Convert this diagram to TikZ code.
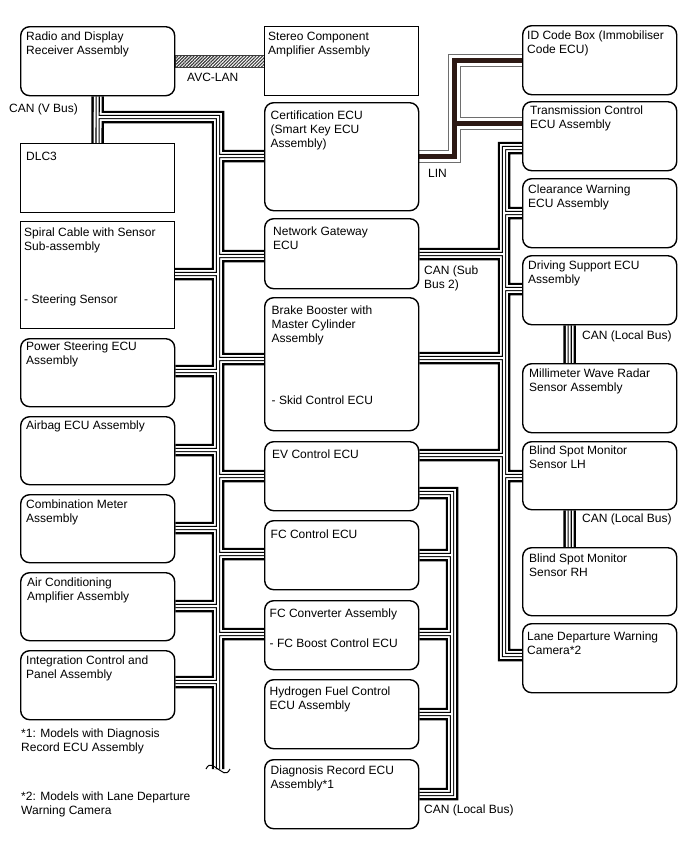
\documentclass[tikz,border=0pt]{standalone}
\usepackage{fontspec}
\setmainfont{Liberation Sans}
\usetikzlibrary{positioning,backgrounds,patterns.meta}
\definecolor{lindark}{RGB}{45,25,20}
\definecolor{lingray}{RGB}{110,110,110}
\definecolor{avcgray}{RGB}{60,60,60}

\begin{document}
\begin{tikzpicture}[x=1pt,y=-1pt,font=\fontsize{12}{14}\selectfont,
  box/.style={draw,line width=1.1pt,fill=white,anchor=north west,minimum width=154pt,minimum height=#1pt,inner sep=0pt},
  box/.default=69,
  ecu/.style={box=#1,line width=1.4pt,rounded corners=9pt},
  ecu/.default=69,
  txt/.style={anchor=north west,inner sep=0pt,align=left}]
\begin{scope}[on background layer]
\fill[white] (0,0) rectangle (688,852);
\end{scope}
\useasboundingbox (0,0) rectangle (688,852);

\node[ecu] (radio) at (20,26) {};
\node[box] (dlc) at (20,143) {};
\node[box=107] (spiral) at (20,221) {};
\node[ecu=68] (psteer) at (20,338) {};
\node[ecu=68] (airbag) at (20,416) {};
\node[ecu=68] (combi) at (20,494) {};
\node[ecu=68] (aircon) at (20,572) {};
\node[ecu] (integ) at (20,650) {};

\node[box] (stereo) at (264,26) {};
\node[ecu=108] (cert) at (264,102) {};
\node[ecu=70] (gateway) at (264,218) {};
\node[ecu=133] (brake) at (264,297) {};
\node[ecu] (ev) at (264,441) {};
\node[ecu] (fcc) at (264,520) {};
\node[ecu] (fcconv) at (264,600) {};
\node[ecu] (h2) at (264,679) {};
\node[ecu] (diag) at (264,759) {};

\node[ecu] (idbox) at (522,25) {};
\node[ecu] (tcm) at (522,101) {};
\node[ecu] (clear) at (522,178) {};
\node[ecu] (drive) at (522,255) {};
\node[ecu] (mwr) at (522,363) {};
\node[ecu=68] (bsmlh) at (522,441) {};
\node[ecu=68] (bsmrh) at (522,547) {};
\node[ecu] (lane) at (522,623) {};

\node[txt,below right=6pt and 6pt of radio.north west] (radio-t) {Radio and Display\\Receiver Assembly};
\node[txt,below right=8.5pt and 6pt of dlc.north west] (dlc-t) {DLC3};
\node[txt,below right=6.5pt and 4pt of spiral.north west] (spiral-t) {Spiral Cable with Sensor\\Sub-assembly\\[39pt]- Steering Sensor};
\node[txt,below right=4pt and 6pt of psteer.north west] (psteer-t) {Power Steering ECU\\Assembly};
\node[txt,below right=4.5pt and 6pt of airbag.north west] (airbag-t) {Airbag ECU Assembly};
\node[txt,below right=5.5pt and 6pt of combi.north west] (combi-t) {Combination Meter\\Assembly};
\node[txt,below right=5.5pt and 7pt of aircon.north west] (aircon-t) {Air Conditioning\\Amplifier Assembly};
\node[txt,below right=5.5pt and 6pt of integ.north west] (integ-t) {Integration Control and\\Panel Assembly};

\node[txt,below right=6pt and 4pt of stereo.north west] (stereo-t) {Stereo Component\\Amplifier Assembly};
\node[txt,below right=8.5pt and 6.5pt of cert.north west] (cert-t) {Certification ECU\\(Smart Key ECU\\Assembly)};
\node[txt,below right=8.5pt and 9pt of gateway.north west] (gateway-t) {Network Gateway\\ECU};
\node[txt,below right=8.5pt and 7.5pt of brake.north west] (brake-t) {Brake Booster with\\Master Cylinder\\Assembly\\[48pt]- Skid Control ECU};
\node[txt,below right=8.5pt and 8pt of ev.north west] (ev-t) {EV Control ECU};
\node[txt,below right=9.5pt and 6.5pt of fcc.north west] (fcc-t) {FC Control ECU};
\node[txt,below right=8.5pt and 5.5pt of fcconv.north west] (fcconv-t) {FC Converter Assembly\\[16pt]- FC Boost Control ECU};
\node[txt,below right=7.5pt and 5.5pt of h2.north west] (h2-t) {Hydrogen Fuel Control\\ECU Assembly};
\node[txt,below right=6.5pt and 6.5pt of diag.north west] (diag-t) {Diagnosis Record ECU\\Assembly*1};

\node[txt,below right=5.5pt and 5pt of idbox.north west] (idbox-t) {ID Code Box (Immobiliser\\Code ECU)};
\node[txt,below right=4.5pt and 8pt of tcm.north west] (tcm-t) {Transmission Control\\ECU Assembly};
\node[txt,below right=6.5pt and 6pt of clear.north west] (clear-t) {Clearance Warning\\ECU Assembly};
\node[txt,below right=5.5pt and 6pt of drive.north west] (drive-t) {Driving Support ECU\\Assembly};
\node[txt,below right=6pt and 7pt of mwr.north west] (mwr-t) {Millimeter Wave Radar\\Sensor Assembly};
\node[txt,below right=4.5pt and 7pt of bsmlh.north west] (bsmlh-t) {Blind Spot Monitor\\Sensor LH};
\node[txt,below right=6.5pt and 7pt of bsmrh.north west] (bsmrh-t) {Blind Spot Monitor\\Sensor RH};
\node[txt,below right=8.5pt and 5pt of lane.north west] (lane-t) {Lane Departure Warning\\Camera*2};

\node[txt] (avc) at (187,72.5) {AVC-LAN};
\node[txt] (vbus) at (9,103.5) {CAN (V Bus)};
\node[txt] (lin) at (428,169.5) {LIN};
\node[txt] (subbus) at (424,265.5) {CAN (Sub\\Bus 2)};
\node[txt] (local-a) at (582,330.5) {CAN (Local Bus)};
\node[txt] (local-b) at (582,513.5) {CAN (Local Bus)};
\node[txt] (local-c) at (424,804.5) {CAN (Local Bus)};
\node[txt] (note-a) at (21,728.5) {*1: Models with Diagnosis\\Record ECU Assembly};
\node[txt] (note-b) at (21,791.5) {*2: Models with Lane Departure\\Warning Camera};

\coordinate (vtop) at (218,117);
\coordinate (vend) at (218,769);
\coordinate (s2top) at (504,148);
\coordinate (s2end) at (504,655);
\coordinate (lctop) at (452,493);
\coordinate (lcend) at (452,794);
\coordinate (lintop) at (454,60);
\coordinate (linbot) at (454,156);

\begin{scope}[on background layer]
\draw[line width=0.9pt,draw=avcgray,pattern={Lines[angle=45,distance=2.3pt,line width=1.1pt]},pattern color=avcgray]
  (radio.east |- 0,55) rectangle (stereo.west |- 0,67);
\foreach \w/\col in {12.5/black,7.8/white,4.2/black,2/white}
  \draw[line width=\w pt,draw=\col]
    (radio.south) -- (dlc.north)
    (radio.south |- vtop) -- (vtop) -- (vend)
    foreach \nd/\yy in {spiral/274,psteer/371,airbag/450,combi/528,aircon/606,integ/682} {(\nd.east |- 0,\yy) -- (vtop |- 0,\yy)}
    foreach \nd/\yy in {cert/156,gateway/256,brake/359,ev/476,fcc/554,fcconv/634} {(\nd.west |- 0,\yy) -- (vtop |- 0,\yy)}
    (tcm.west |- s2top) -- (s2top) -- (s2end) -- (lane.west |- s2end)
    foreach \nd/\yy in {gateway/254,brake/358,ev/455} {(\nd.east |- 0,\yy) -- (s2top |- 0,\yy)}
    foreach \nd/\yy in {clear/213,drive/289,bsmlh/476} {(\nd.west |- 0,\yy) -- (s2top |- 0,\yy)}
    ([xshift=-30pt]drive.south) -- ([xshift=-30pt]mwr.north)
    ([xshift=-30pt]bsmlh.south) -- ([xshift=-30pt]bsmrh.north)
    (ev.east |- lctop) -- (lctop) -- (lcend) -- (diag.east |- lcend)
    foreach \nd/\yy in {fcc/555,fcconv/634,h2/714} {(\nd.east |- 0,\yy) -- (lctop |- 0,\yy)};
\foreach \w/\col in {13/lingray,11/white,5/lindark}
  \draw[line width=\w pt,draw=\col]
    (cert.east |- linbot) -- (linbot) -- (lintop) -- (idbox.west |- lintop)
    (linbot |- 0,123.5) -- (tcm.west |- 0,123.5);
\end{scope}
\draw[line width=1pt] ([xshift=-12pt]vend) .. controls +(4,-8) and +(-4,-2) .. (vend) .. controls +(4,2) and +(-4,8) .. ([xshift=12pt]vend);
\end{tikzpicture}
\end{document}
